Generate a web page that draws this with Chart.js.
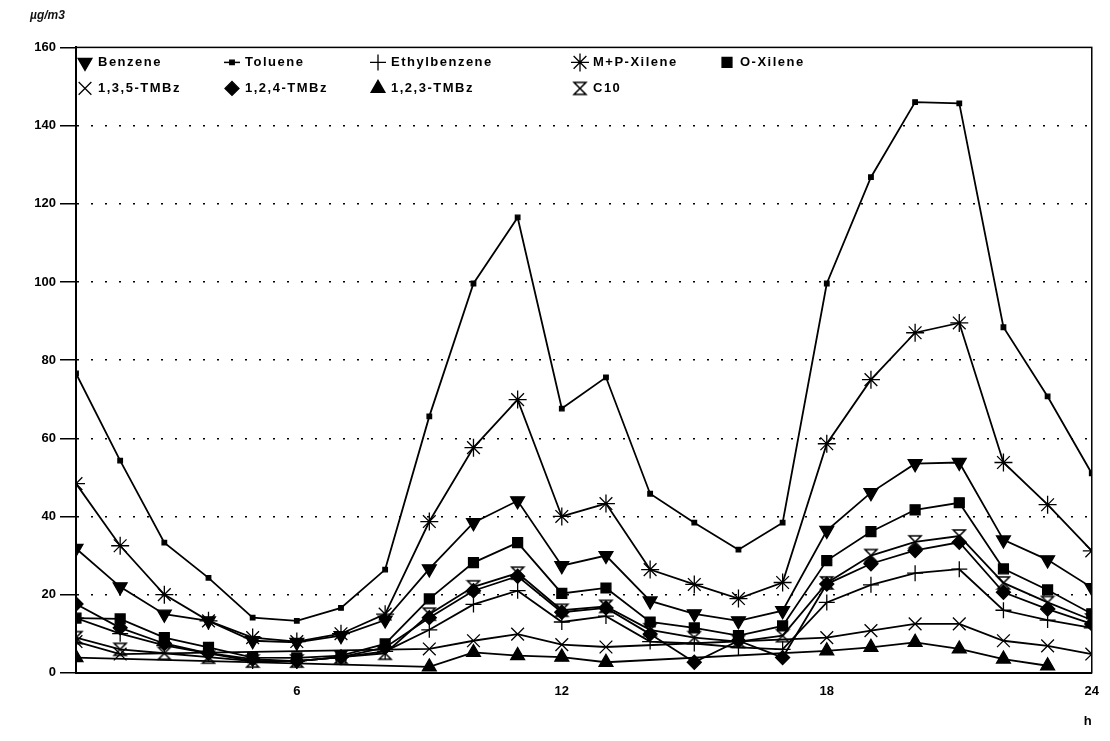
<!DOCTYPE html>
<html>
<head>
<meta charset="utf-8">
<script src="https://cdn.jsdelivr.net/npm/chart.js@4.4.1/dist/chart.umd.min.js"></script>
<style>
  html, body { margin: 0; padding: 0; background: #fff; }
</style>
</head>
<body>
<canvas id="chart" width="1110" height="741"></canvas>
<script>
const hours = [1, 2, 3, 4, 5, 6, 7, 8, 9, 10, 11, 12, 13, 14, 15, 16, 17, 18, 19, 20, 21, 22, 23, 24];
const hourTicks = [6, 12, 18, 24];

const benzene = [31.8, 22, 15, 13.3, 8.2, 7.8, 9.5, 13.5, 26.6, 38.4, 44, 27.4, 30, 18.4, 15.1, 13.3, 15.9, 36.4, 46.1, 53.5, 53.8, 34, 28.9, 21.8];
const toluene = [76.6, 54.3, 33.3, 24.3, 14.1, 13.3, 16.6, 26.4, 65.6, 99.6, 116.5, 67.6, 75.6, 45.8, 38.4, 31.5, 38.4, 99.6, 126.8, 146, 145.7, 88.4, 70.7, 51];
const ethylbenzene = [14, 10, 7, 5, 3, 3, 4, 5.5, 11, 17.5, 21, 13, 14.5, 8, 7.5, 6.5, 6, 18, 22.5, 25.5, 26.5, 16, 13.5, 11.5];
const mpXilene = [48.4, 32.5, 20, 13.3, 9, 8, 10, 15, 38.7, 57.6, 69.9, 40, 43.3, 26.4, 22.6, 19, 23.1, 58.6, 75, 87, 89.5, 53.8, 43, 31.2];
const oXilene = [14, 13.8, 9, 6.5, 3.9, 3.8, 4.4, 7.4, 18.9, 28.2, 33.3, 20.3, 21.7, 13, 11.5, 9.5, 12, 28.7, 36.1, 41.7, 43.5, 26.6, 21.2, 15.1];
const tmb135 = [8, 4.8, null, null, null, null, null, null, 6.1, 8.2, 9.9, 7.2, 6.6, null, null, null, null, 9, 10.8, 12.5, 12.5, 8.2, 6.9, 4.8];
const tmb124 = [17.6, 11.5, 7.5, 5, 3.5, 3, 4, 6.5, 14.1, 21, 24.7, 15.5, 16.6, 9.9, 2.7, 8.2, 3.9, 22.7, 27.9, 31.3, 33.4, 20.6, 16.3, 12.5];
const tmb123 = [3.9, null, null, null, null, null, null, null, 1.5, 5.2, 4.4, 4, 2.7, null, null, null, null, 5.6, 6.5, 7.8, 6.1, 3.5, 1.8, null];
const c10 = [9, 6, 5, 4, 3, 3, 4, 5, 15, 22, 25.5, 16, 17, 11, 9, 8, 9.5, 23, 30, 33.5, 35, 23, 18, 13.5];

const FONT = '"Liberation Sans", Arial, sans-serif';

// hourglass marker for C10
function hourglass() {
    const c = document.createElement('canvas');
    c.width = 16;
    c.height = 16;
    const g = c.getContext('2d');
    g.strokeStyle = '#000';
    g.lineWidth = 1.5;
    g.beginPath();
    g.moveTo(2, 2);
    g.lineTo(14, 2);
    g.lineTo(2, 14);
    g.lineTo(14, 14);
    g.closePath();
    g.stroke();
    return c;
}

function series(label, data, style, radius, rotation) {
    return {
        label: label,
        data: hours.map((h, i) => ({ x: h, y: data[i] })),
        borderColor: '#000',
        borderWidth: 1.8,
        backgroundColor: '#000',
        pointBackgroundColor: '#000',
        pointBorderColor: '#000',
        pointBorderWidth: 1.3,
        pointStyle: style,
        pointRadius: radius,
        pointRotation: rotation || 0,
        tension: 0,
        spanGaps: true,
    };
}

const datasets = [
    series('Benzene', benzene, 'triangle', 8, 180),
    series('Toluene', toluene, 'rect', 3.2),
    series('Ethylbenzene', ethylbenzene, 'cross', 8),
    series('M+P-Xilene', mpXilene, 'star', 9),
    series('O-Xilene', oXilene, 'rect', 7),
    series('1,3,5-TMBz', tmb135, 'crossRot', 9),
    series('1,2,4-TMBz', tmb124, 'rectRot', 7),
    series('1,2,3-TMBz', tmb123, 'triangle', 8),
    series('C10', c10, hourglass(), 8),
];

// legend sits inside the plot, two rows
const legendCols = [9, 156, 302, 504, 651];
const innerLegend = {
    id: 'innerLegend',
    afterDraw(chart) {
        const { ctx, chartArea } = chart;
        ctx.save();
        ctx.font = 'bold 13px ' + FONT;
        ctx.letterSpacing = '1.5px';
        ctx.textBaseline = 'middle';
        ctx.fillStyle = '#000';
        ctx.strokeStyle = '#000';
        chart.data.datasets.forEach((ds, i) => {
            const row = i < 5 ? 0 : 1;
            const col = i < 5 ? i : i - 5;
            const mx = chartArea.left + legendCols[col];
            const my = chartArea.top + 15 + row * 26;
            if (ds.pointRadius < 5) {
                ctx.lineWidth = 1.5;
                ctx.beginPath();
                ctx.moveTo(mx - 8, my);
                ctx.lineTo(mx + 8, my);
                ctx.stroke();
            }
            ctx.lineWidth = 1.3;
            Chart.helpers.drawPoint(ctx, {
                pointStyle: ds.pointStyle,
                rotation: ds.pointRotation,
                radius: ds.pointRadius,
                borderWidth: 1.3,
            }, mx, my);
            ctx.fillText(ds.label, mx + 13, my);
        });
        ctx.restore();
    },
};

const frame = {
    id: 'frame',
    afterDraw(chart) {
        const { ctx, chartArea } = chart;
        ctx.save();
        ctx.strokeStyle = '#000';
        ctx.lineWidth = 1.5;
        ctx.strokeRect(chartArea.left, chartArea.top, chartArea.right - chartArea.left, chartArea.bottom - chartArea.top);
        ctx.restore();
    },
};

new Chart(document.getElementById('chart'), {
    type: 'line',
    data: { datasets: datasets },
    options: {
        responsive: false,
        animation: false,
        devicePixelRatio: 1,
        layout: { padding: { left: 30, right: 6, top: 4, bottom: 12 } },
        plugins: {
            legend: { display: false },
            tooltip: { enabled: false },
            title: {
                display: true,
                text: 'µg/m3',
                align: 'start',
                color: '#111',
                font: { family: FONT, size: 12, weight: 'bold', style: 'italic' },
                padding: { top: 4, bottom: 25 },
            },
        },
        scales: {
            x: {
                type: 'linear',
                min: 1,
                max: 24,
                afterBuildTicks: axis => {
                    axis.ticks = hourTicks.map(v => ({ value: v }));
                },
                grid: { drawOnChartArea: false, drawTicks: false },
                border: { color: '#000', width: 2 },
                ticks: {
                    color: '#000',
                    padding: 11,
                    font: { family: FONT, size: 13, weight: 'bold' },
                },
                title: {
                    display: true,
                    text: 'h',
                    align: 'end',
                    color: '#000',
                    font: { family: FONT, size: 13, weight: 'bold' },
                    padding: { top: 3, bottom: 0 },
                },
            },
            y: {
                min: 0,
                max: 160,
                afterFit: scale => {
                    scale.width = 46;
                },
                ticks: {
                    stepSize: 20,
                    color: '#000',
                    padding: 4,
                    font: { family: FONT, size: 13, weight: 'bold' },
                },
                grid: {
                    color: c => (c.tick && (c.tick.value === 0 || c.tick.value === 160)) ? 'rgba(0,0,0,0)' : '#000',
                    tickColor: '#000',
                    tickLength: 16,
                    lineWidth: 1.5,
                },
                border: { color: '#000', width: 2, dash: [2, 12] },
            },
        },
    },
    plugins: [innerLegend, frame],
});
</script>
</body>
</html>
